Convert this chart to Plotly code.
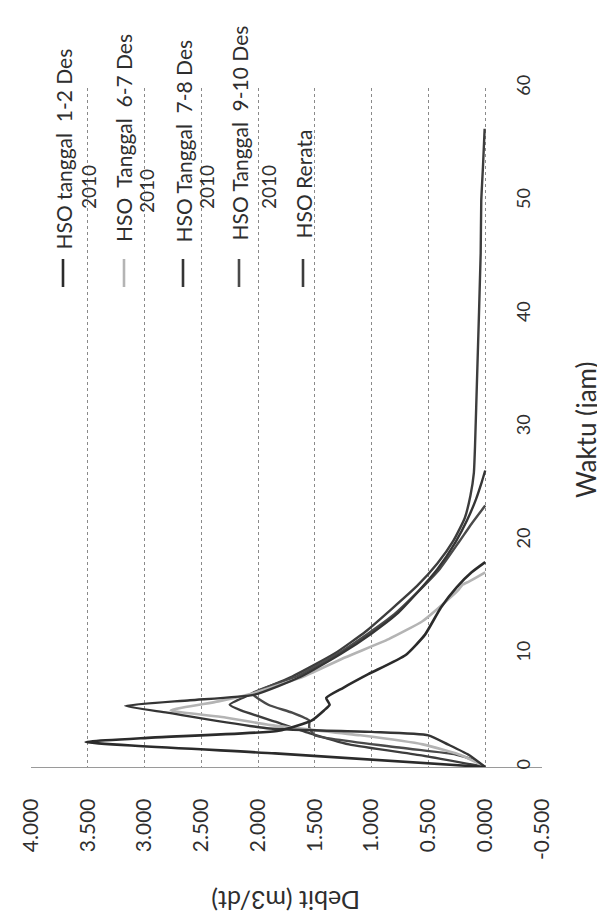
import plotly.graph_objects as go

# ---------------- data ----------------
# Waktu (jam) and Debit (m3/dt) for each hydrograph
t_1_2 = [0, 1.2, 2.2, 2.6, 3.2, 4.1, 5.0, 5.5, 6.1, 7.0, 8.2, 9.9, 11.7, 14.1, 15.9, 17.2, 18.1]
q_1_2 = [0, 1.85, 3.52, 2.94, 1.82, 1.53, 1.42, 1.37, 1.40, 1.25, 1.03, 0.70, 0.53, 0.39, 0.25, 0.12, 0.0]

t_6_7 = [0, 1.0, 2.0, 2.8, 3.7, 4.4, 5.0, 5.8, 6.5, 8.0, 9.7, 11.3, 12.9, 14.5, 15.6, 16.1, 16.4, 17.2]
q_6_7 = [0, 0.20, 0.55, 1.10, 1.89, 2.30, 2.77, 2.35, 2.05, 1.60, 1.23, 0.85, 0.55, 0.36, 0.24, 0.20, 0.14, 0.0]

t_7_8 = [0, 1.1, 2.0, 2.8, 3.1, 3.4, 4.8, 5.4, 5.9, 6.4, 8.0, 10.0, 11.8, 13.5, 15.4, 17.5, 19.9, 21.8, 23.7, 25.2, 26.2]
q_7_8 = [0, 0.15, 0.33, 0.50, 1.00, 1.90, 2.80, 3.17, 2.60, 2.03, 1.62, 1.27, 1.00, 0.78, 0.60, 0.42, 0.26, 0.16, 0.08, 0.03, 0.0]

t_9_10 = [0, 0.6, 1.1, 1.7, 2.8, 3.5, 4.1, 4.8, 5.5, 6.5, 8.0, 10.0, 11.8, 13.5, 15.4, 17.5, 19.9, 21.5, 23.1]
q_9_10 = [0, 0.10, 0.26, 0.74, 1.50, 1.55, 1.55, 1.70, 1.91, 2.05, 1.66, 1.30, 1.03, 0.80, 0.60, 0.40, 0.23, 0.12, 0.0]

t_rerata = [0, 1.0, 2.0, 3.0, 4.0, 5.0, 5.5, 6.5, 8.0, 10.0, 12.0, 14.0, 16.0, 18.0, 20.0, 22.0, 24.0, 26.0, 28.3, 35.0, 45.4, 50.0, 53.0, 56.4]
q_rerata = [0, 0.55, 1.20, 1.55, 1.85, 2.15, 2.25, 2.05, 1.70, 1.33, 1.05, 0.82, 0.60, 0.42, 0.28, 0.18, 0.13, 0.10, 0.09, 0.07, 0.04, 0.035, 0.02, 0.005]

series_names = ["HSO tanggal 1-2 Des 2010", "HSO Tanggal 6-7 Des 2010",
                "HSO Tanggal 7-8 Des 2010", "HSO Tanggal 9-10 Des 2010", "HSO Rerata"]
legend_line1 = ["HSO tanggal  1-2 Des", "HSO  Tanggal  6-7 Des", "HSO Tanggal  7-8 Des",
                "HSO Tanggal  9-10 Des", "HSO Rerata"]
legend_line2 = ["2010", "2010", "2010", "2010", ""]

debit_ticks = [-0.5, 0.0, 0.5, 1.0, 1.5, 2.0, 2.5, 3.0, 3.5, 4.0]
waktu_ticks = [0, 10, 20, 30, 40, 50, 60]

# ---------------- styling ----------------
colors = ["#2b2b2b", "#b4b4b4", "#353535", "#4a4a4a", "#3d3d3d"]
widths = [2.6, 2.6, 2.4, 2.4, 2.4]
FONT = "Lato"
TXT = "#2e2e2e"

W, H = 605, 921
L, R, T, B = 23, 71, 80, 162
PW, PH = W - L - R, H - T - B


def px(xp):
    return (xp - L) / PW


def py(yp):
    return (H - B - yp) / PH


fig = go.Figure()
series = [(t_1_2, q_1_2), (t_6_7, q_6_7), (t_7_8, q_7_8), (t_9_10, q_9_10), (t_rerata, q_rerata)]
order = [4, 3, 1, 2, 0]
for i in order:
    t, q = series[i]
    fig.add_trace(go.Scatter(x=q, y=t, mode="lines", name=series_names[i],
                             line=dict(color=colors[i], width=widths[i],
                                       shape="spline", smoothing=0.5),
                             showlegend=False))

# ---------------- rotated legend (annotations + sample lines) ----------------
leg_x1 = [55, 116, 175, 231, 295]
leg_x2 = [80, 138, 198, 260, 0]
leg_b1 = [244, 236, 237, 235, 233]
leg_b2 = [203, 207, 203, 203, 0]
annotations = []
shapes = []
for i in range(5):
    shapes.append(dict(type="line", xref="paper", yref="paper",
                       x0=px(leg_x1[i]), x1=px(leg_x1[i]), y0=py(251), y1=py(279),
                       line=dict(color=colors[i], width=2.6)))
    annotations.append(dict(xref="paper", yref="paper", x=px(leg_x1[i]), y=py(leg_b1[i]),
                            text=legend_line1[i], textangle=-90, showarrow=False,
                            xanchor="center", yanchor="bottom",
                            font=dict(family=FONT, size=21, color=TXT)))
    if legend_line2[i]:
        annotations.append(dict(xref="paper", yref="paper", x=px(leg_x2[i]), y=py(leg_b2[i]),
                                text=legend_line2[i], textangle=-90, showarrow=False,
                                xanchor="center", yanchor="bottom",
                                font=dict(family=FONT, size=19, color=TXT)))

# axis titles (rotated like the scanned page)
annotations.append(dict(xref="paper", yref="paper", x=px(278), y=py(893),
                        text="Debit (m3/dt)", textangle=180, showarrow=False,
                        xanchor="center", yanchor="middle",
                        font=dict(family=FONT, size=25, color=TXT)))
annotations.append(dict(xref="paper", yref="paper", x=px(578), y=py(422),
                        text="Waktu (jam)", textangle=-90, showarrow=False,
                        xanchor="center", yanchor="middle",
                        font=dict(family=FONT, size=26, color=TXT)))

fig.update_layout(
    width=W, height=H,
    margin=dict(l=L, r=R, t=T, b=B, autoexpand=False),
    paper_bgcolor="white", plot_bgcolor="white",
    showlegend=False,
    xaxis=dict(range=[4.0, -0.5], tickmode="array", tickvals=debit_ticks,
               ticktext=[f"{v:.3f}" for v in debit_ticks],
               tickangle=-90, ticklabelstandoff=22,
               tickfont=dict(family=FONT, size=21, color=TXT),
               showgrid=True, gridcolor="#8a8a8a", griddash="dot", gridwidth=1,
               zeroline=False, showline=True, linecolor="#9a9a9a", linewidth=1.2,
               ticks=""),
    yaxis=dict(range=[0, 60], side="right", tickmode="array", tickvals=waktu_ticks,
               tickangle=-90, ticklabelposition="inside", ticklabeloverflow="allow",
               ticklabelstandoff=5,
               tickfont=dict(family=FONT, size=18, color=TXT),
               showgrid=False, zeroline=False, showline=False, ticks=""),
    annotations=annotations,
    shapes=shapes,
)

fig.write_html("out.html")
